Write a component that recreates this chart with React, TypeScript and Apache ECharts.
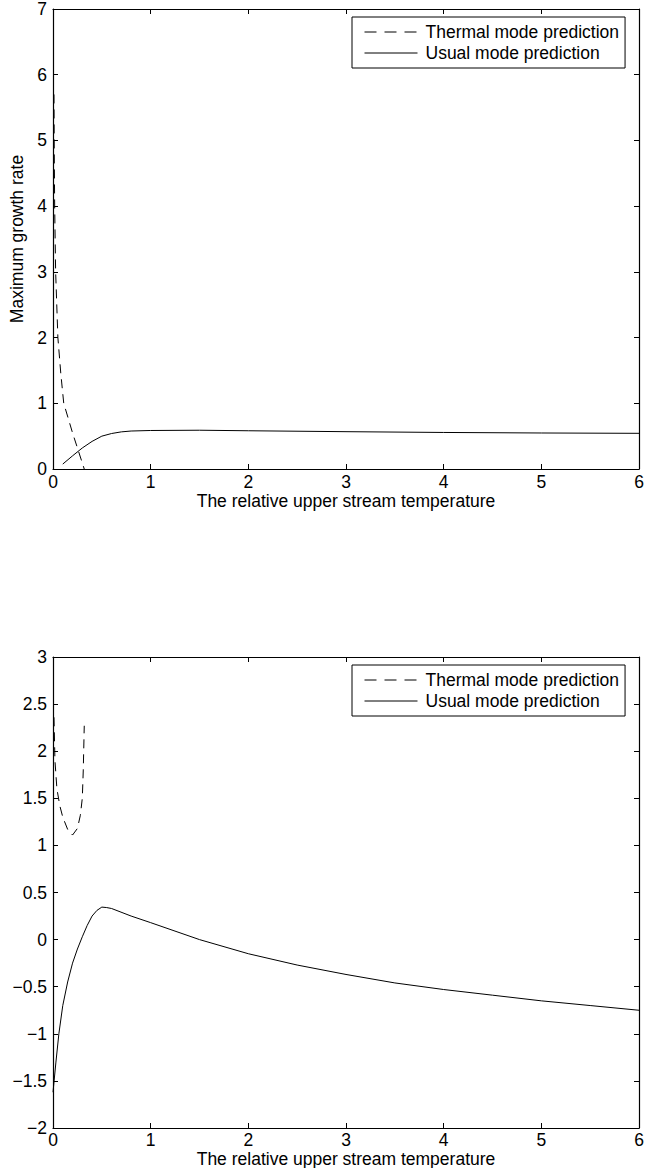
import React, { useEffect, useRef } from "react";
import * as echarts from "echarts";

// Top panel: maximum growth rate
const xThermalTop = [0.01, 0.013, 0.017, 0.027, 0.05, 0.08, 0.11, 0.2, 0.32];
const yThermalTop = [5.7, 4.8, 4.0, 3.0, 2.0, 1.45, 1.0, 0.55, 0];
const xUsualTop = [0.1, 0.2, 0.3, 0.4, 0.5, 0.6, 0.7, 0.8, 1.0, 1.5, 2, 3, 4, 5, 6];
const yUsualTop = [0.075, 0.2, 0.32, 0.42, 0.5, 0.54, 0.565, 0.578, 0.586, 0.59, 0.582, 0.568, 0.556, 0.548, 0.543];

// Bottom panel
const xThermalBot = [0.01, 0.02, 0.04, 0.07, 0.1, 0.15, 0.2, 0.25, 0.28, 0.3, 0.31, 0.32];
const yThermalBot = [2.36, 1.9, 1.6, 1.42, 1.3, 1.17, 1.11, 1.18, 1.32, 1.5, 1.8, 2.27];
const xUsualBot = [0, 0.03, 0.06, 0.1, 0.15, 0.2, 0.25, 0.3, 0.35, 0.4, 0.45, 0.5, 0.55, 0.6, 0.8, 1.0, 1.5, 2, 2.5, 3, 3.5, 4, 4.5, 5, 5.5, 6];
const yUsualBot = [-1.62, -1.3, -1.0, -0.7, -0.45, -0.25, -0.1, 0.03, 0.15, 0.25, 0.31, 0.345, 0.34, 0.33, 0.25, 0.18, 0.0, -0.15, -0.27, -0.37, -0.46, -0.53, -0.59, -0.65, -0.7, -0.75];

const seriesNames = ["Thermal mode prediction", "Usual mode prediction"];
const xTitle = "The relative upper stream temperature";
const yTitleTop = "Maximum growth rate";
const yTitleBot = "Wavenumber of the most unstable mode";

const FONT = "'Liberation Sans', Arial, Helvetica, sans-serif";
const FS = 17.5;

const zip = (xs: number[], ys: number[]) => xs.map((x, i) => [x, ys[i]]);
const fmt = (v: number) => String(v).replace("-", "\u2212");

export default function App() {
  const ref = useRef<HTMLDivElement>(null);
  useEffect(() => {
    document.body.style.margin = "0";
    const chart = echarts.init(ref.current!, null, { renderer: "svg" });
    const axisLine = { show: true, onZero: false, lineStyle: { color: "#000", width: 1.2 } };
    const tick = { show: true, inside: true, length: 5, lineStyle: { color: "#000", width: 1 } };
    const label = { color: "#000", fontSize: FS, fontFamily: FONT };
    const mkX = (grid: number, pos: "bottom" | "top", main: boolean, lm: number, gap: number) => ({
      type: "value",
      gridIndex: grid,
      position: pos,
      min: 0,
      max: 6,
      interval: 1,
      axisLine,
      axisTick: tick,
      splitLine: { show: false },
      axisLabel: main ? { ...label, margin: lm, formatter: fmt } : { show: false },
      name: main ? xTitle : "",
      nameLocation: "middle",
      nameGap: gap,
      nameTextStyle: { color: "#000", fontSize: FS, fontFamily: FONT },
    });
    const mkY = (grid: number, pos: "left" | "right", main: boolean, min: number, max: number, interval: number, title: string, gap: number) => ({
      type: "value",
      gridIndex: grid,
      position: pos,
      min,
      max,
      interval,
      axisLine,
      axisTick: tick,
      splitLine: { show: false },
      axisLabel: main ? { ...label, margin: 6, formatter: fmt } : { show: false },
      name: main ? title : "",
      nameLocation: "middle",
      nameGap: gap,
      nameTextStyle: { color: "#000", fontSize: FS, fontFamily: FONT },
    });
    const dashed = { color: "#000", width: 1, type: [9, 6] };
    const solid = { color: "#000", width: 1, type: "solid" };
    const line = (name: string, data: number[][], xi: number, yi: number, ls: any) => ({
      type: "line",
      name,
      data,
      xAxisIndex: xi,
      yAxisIndex: yi,
      symbol: "none",
      showSymbol: false,
      lineStyle: ls,
      itemStyle: { color: "#000" },
      emphasis: { disabled: true },
    });
    const hidden = { color: "rgba(0,0,0,0)", borderColor: "rgba(0,0,0,0)", borderWidth: 0, opacity: 0 };
    const legend = (top: number) => ({
      show: true,
      orient: "vertical",
      left: 352,
      top,
      data: [
        { name: seriesNames[0], lineStyle: { type: [12, 8], color: "#000", width: 1 }, itemStyle: hidden },
        { name: seriesNames[1], lineStyle: { type: "solid", color: "#000", width: 1 }, itemStyle: hidden },
      ],
      itemStyle: hidden,
      itemWidth: 53,
      itemHeight: 14,
      itemGap: 3,
      padding: [6, 6, 6, 12],
      borderColor: "#000",
      borderWidth: 1,
      backgroundColor: "#fff",
      textStyle: { color: "#000", fontSize: FS, fontFamily: FONT, padding: [0, 0, 0, 3] },
      selectedMode: false,
    });
    chart.setOption({
      animation: false,
      backgroundColor: "#fff",
      grid: [
        { left: 53, top: 9, width: 586, height: 460, containLabel: false, outerBoundsMode: "none" },
        { left: 53, top: 657, width: 586, height: 471, containLabel: false, outerBoundsMode: "none" },
      ],
      xAxis: [
        mkX(0, "bottom", true, 4, 19),
        mkX(0, "top", false, 4, 19),
        mkX(1, "bottom", true, 3, 14),
        mkX(1, "top", false, 3, 14),
      ],
      yAxis: [
        mkY(0, "left", true, 0, 7, 1, yTitleTop, 27),
        mkY(0, "right", false, 0, 7, 1, "", 0),
        mkY(1, "left", true, -2, 3, 0.5, yTitleBot, 46),
        mkY(1, "right", false, -2, 3, 0.5, "", 0),
      ],
      legend: [legend(17), legend(665)],
      series: [
        line(seriesNames[0], zip(xThermalTop, yThermalTop), 0, 0, dashed),
        line(seriesNames[1], zip(xUsualTop, yUsualTop), 0, 0, solid),
        line(seriesNames[0], zip(xThermalBot, yThermalBot), 2, 2, dashed),
        line(seriesNames[1], zip(xUsualBot, yUsualBot), 2, 2, solid),
      ],
    });
    return () => chart.dispose();
  }, []);
  return <div ref={ref} style={{ position: "absolute", left: 0, top: 0, width: 645, height: 1168 }} />;
}
